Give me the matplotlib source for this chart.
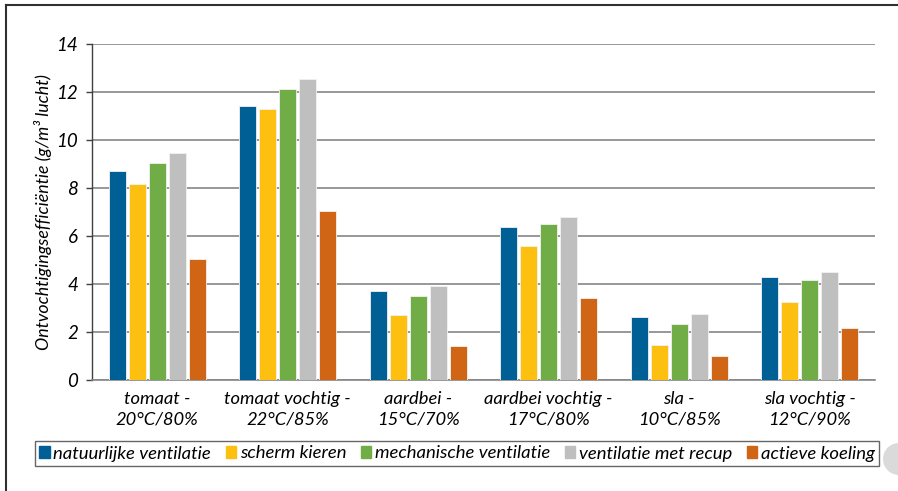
import matplotlib
matplotlib.use("Agg")
import matplotlib.pyplot as plt
import matplotlib.patches as mpatches
import matplotlib.lines as mlines
import numpy as np

categories = [
    "tomaat -\n20°C/80%",
    "tomaat vochtig -\n22°C/85%",
    "aardbei -\n15°C/70%",
    "aardbei vochtig -\n17°C/80%",
    "sla -\n10°C/85%",
    "sla vochtig -\n12°C/90%",
]
series_names = [
    "natuurlijke ventilatie",
    "scherm kieren",
    "mechanische ventilatie",
    "ventilatie met recup",
    "actieve koeling",
]
natuurlijke_ventilatie = [8.7, 11.4, 3.72, 6.39, 2.62, 4.28]
scherm_kieren = [8.18, 11.28, 2.71, 5.58, 1.47, 3.24]
mechanische_ventilatie = [9.05, 12.11, 3.51, 6.5, 2.32, 4.17]
ventilatie_met_recup = [9.44, 12.53, 3.93, 6.81, 2.74, 4.49]
actieve_koeling = [5.03, 7.05, 1.42, 3.4, 1.01, 2.18]
yticks = [0, 2, 4, 6, 8, 10, 12, 14]

values = [natuurlijke_ventilatie, scherm_kieren, mechanische_ventilatie,
          ventilatie_met_recup, actieve_koeling]
colors = ["#005F94", "#FDC010", "#70AD47", "#BFBFBF", "#D06515"]

plt.rcParams["font.family"] = ["Lato", "DejaVu Sans"]
plt.rcParams["font.style"] = "italic"

W, H = 898, 491
fig = plt.figure(figsize=(W / 100, H / 100), dpi=100)
ax = fig.add_axes([92 / W, 1 - 380 / H, (875 - 92) / W, (380 - 44) / H])

x = np.arange(len(categories))
step = 0.153
bw = 0.128
for i, (name, vals, c) in enumerate(zip(series_names, values, colors)):
    ax.bar(x + (i - 2) * step, vals, width=bw, color=c, label=name,
           edgecolor="#F2F2F2", linewidth=0.6, zorder=3)

ax.set_xlim(-0.5, len(categories) - 0.5)
ax.set_ylim(0, 14)
ax.set_yticks(yticks)
ax.set_yticklabels([str(t) for t in yticks], fontsize=13.5)
ax.set_xticks(x)
ax.set_xticklabels(categories, fontsize=13.2, linespacing=1.35)
ax.tick_params(axis="x", length=0, pad=8)
ax.tick_params(axis="y", length=4, width=1, color="#404040", pad=6)

ax.grid(axis="y", color="#868686", linewidth=1.2, zorder=0)
ax.set_axisbelow(True)
for s in ("top", "right"):
    ax.spines[s].set_visible(False)
ax.spines["left"].set_color("#404040")
ax.spines["left"].set_linewidth(1.0)
ax.spines["bottom"].set_color("#868686")
ax.spines["bottom"].set_linewidth(1.2)

ax.set_ylabel("Ontvochtigingsefficiëntie (g/m³ lucht)", fontsize=12.8, labelpad=3)

handles = [mpatches.Patch(color=c) for c in colors]
leg = fig.legend(handles, series_names, loc="center",
                 bbox_to_anchor=(457 / W, 1 - 453.5 / H),
                 ncol=5, fontsize=13.3, frameon=True, fancybox=False,
                 handlelength=0.55, handleheight=0.55, handletextpad=0.2,
                 columnspacing=0.8, borderpad=0.25, borderaxespad=0)
leg.get_frame().set_edgecolor("#404040")
leg.get_frame().set_linewidth(1.0)

# outer frame lines (top and left)
fig.add_artist(mlines.Line2D([6 / W, 1], [1 - 5 / H, 1 - 5 / H],
                             transform=fig.transFigure, color="#303030", lw=1.5))
fig.add_artist(mlines.Line2D([6 / W, 6 / W], [0, 1 - 5 / H],
                             transform=fig.transFigure, color="#303030", lw=1.5))
# decorative circle at right edge
fig.add_artist(mpatches.Circle((8.99, (H - 459) / 100), 0.16,
                               transform=fig.dpi_scale_trans, color="#DADADA", lw=0))

fig.savefig("out.png", dpi=100)
